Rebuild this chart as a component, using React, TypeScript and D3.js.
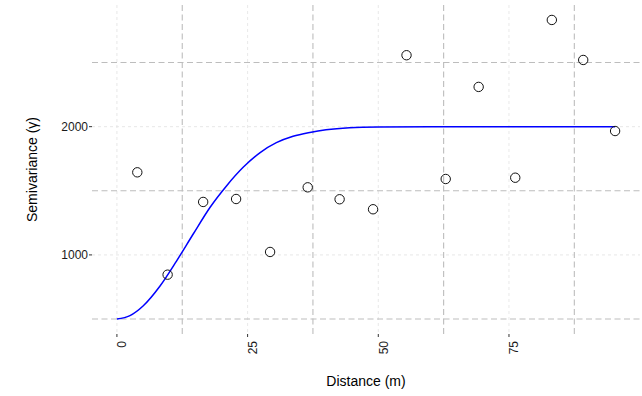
import React from 'react'
import * as d3 from 'd3'

// empirical semivariogram (lag bins)
const lagDist = [3.9, 9.7, 16.5, 22.8, 29.3, 36.5, 42.6, 49.0, 55.4, 62.9, 69.2, 76.2, 83.2, 89.2, 95.3]
const lagGamma = [1644, 846, 1413, 1436, 1023, 1527, 1434, 1356, 2557, 1592, 2310, 1602, 2832, 2520, 1966]

// fitted model curve
const modelDist = [0, 2.5, 5, 8.25, 11.4, 14.6, 17.8, 21, 24.2, 27.4, 30.5, 33.7, 36.9, 40, 44.5, 50, 60, 95.3]
const modelGamma = [500, 527, 602, 758, 952, 1163, 1370, 1540, 1685, 1798, 1875, 1925, 1955, 1976, 1992, 1998, 2000, 2000]

const xBreaks = [0, 25, 50, 75]
const xMinor = [12.5, 37.5, 62.5, 87.5]
const yBreaks = [1000, 2000]
const yMinor = [500, 1500, 2500]

const W = 642
const H = 396

export default function App() {
    const left = 92, right = 640, top = 5, bottom = 334

    const allX = lagDist.concat(modelDist)
    const allY = lagGamma.concat(modelGamma)
    const xExt = d3.extent(allX) as [number, number]
    const yExt = d3.extent(allY) as [number, number]
    const xPad = (xExt[1] - xExt[0]) * 0.05
    const yPad = (yExt[1] - yExt[0]) * 0.05

    const x = d3.scaleLinear().domain([xExt[0] - xPad, xExt[1] + xPad]).range([left, right])
    const y = d3.scaleLinear().domain([yExt[0] - yPad, yExt[1] + yPad]).range([bottom, top])

    const line = d3.line<number>()
        .x((d, i) => x(modelDist[i]))
        .y(d => y(d))
        .curve(d3.curveMonotoneX)

    const font = "'Liberation Sans', Arial, sans-serif"

    return (
        <svg width={W} height={H} style={{position: 'fixed', left: 0, top: 0, background: '#fff'}}
             fontFamily={font}>
            {/* light grid at breaks */}
            {xBreaks.map(b => (
                <line key={'xb' + b} x1={x(b)} x2={x(b)} y1={top} y2={bottom}
                      stroke="#e2e2e2" strokeWidth={0.8} strokeDasharray="3,3"/>
            ))}
            {yBreaks.map(b => (
                <line key={'yb' + b} x1={left} x2={right} y1={y(b)} y2={y(b)}
                      stroke="#e2e2e2" strokeWidth={0.8} strokeDasharray="3,3"/>
            ))}
            {/* darker dashed grid between breaks */}
            {xMinor.map(b => (
                <line key={'xm' + b} x1={x(b)} x2={x(b)} y1={top} y2={bottom}
                      stroke="#bdbdbd" strokeWidth={1.1} strokeDasharray="6,3.5"/>
            ))}
            {yMinor.map(b => (
                <line key={'ym' + b} x1={left} x2={right} y1={y(b)} y2={y(b)}
                      stroke="#bdbdbd" strokeWidth={1.1} strokeDasharray="6,3.5"/>
            ))}

            <path d={line(modelGamma) || ''} fill="none" stroke="#0000ff" strokeWidth={1.5}/>

            {lagDist.map((d, i) => (
                <circle key={i} cx={x(d)} cy={y(lagGamma[i])} r={4.7}
                        fill="none" stroke="#111" strokeWidth={1}/>
            ))}

            {/* x axis */}
            {xBreaks.map(b => (
                <g key={'xt' + b}>
                    <line x1={x(b)} x2={x(b)} y1={bottom} y2={bottom + 3} stroke="#333" strokeWidth={1}/>
                    <text transform={`translate(${x(b) + 9.5},${341}) rotate(-90)`} textAnchor="end"
                          fontSize={12} fill="#1a1a1a">{b}</text>
                </g>
            ))}
            {/* y axis */}
            {yBreaks.map(b => (
                <g key={'yt' + b}>
                    <line x1={left - 3} x2={left} y1={y(b)} y2={y(b)} stroke="#333" strokeWidth={1}/>
                    <text x={left - 4} y={y(b)} dy="0.35em" textAnchor="end"
                          fontSize={12} fill="#1a1a1a">{b}</text>
                </g>
            ))}

            <text x={(left + right) / 2} y={386} textAnchor="middle" fontSize={14} fill="#000">Distance (m)</text>
            <text transform={`translate(36.5,${(top + bottom) / 2}) rotate(-90)`} textAnchor="middle"
                  fontSize={14} fill="#000">Semivariance (γ)</text>
        </svg>
    )
}
